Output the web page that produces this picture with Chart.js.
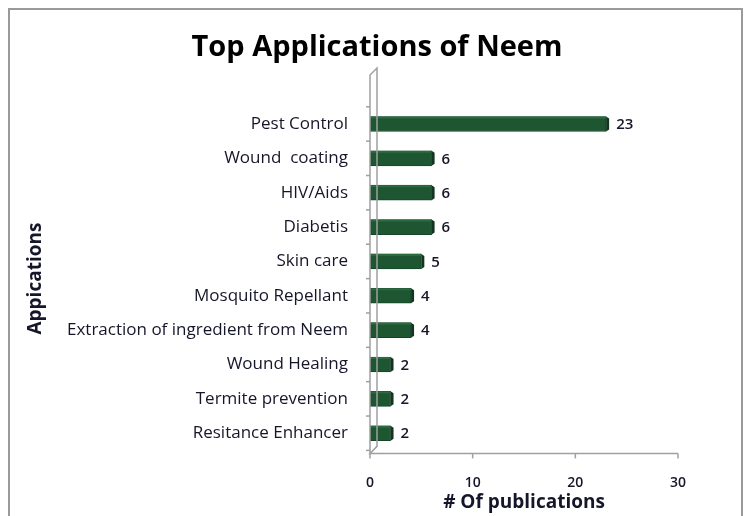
<!DOCTYPE html>
<html>
<head>
<meta charset="utf-8">
<script src="https://cdn.jsdelivr.net/npm/chart.js"></script>
<style>
  html, body { margin: 0; padding: 0; background: #fff; }
  #wrap { width: 745px; height: 516px; position: relative; }
</style>
</head>
<body>
<div id="wrap"><canvas id="neemChart" width="745" height="516"></canvas></div>
<script>
const applications = ['Pest Control', 'Wound  coating', 'HIV/Aids', 'Diabetis', 'Skin care',
    'Mosquito Repellant', 'Extraction of ingredient from Neem', 'Wound Healing',
    'Termite prevention', 'Resitance Enhancer'];
const publications = [23, 6, 6, 6, 5, 4, 4, 2, 2, 2];
const xTicks = [0, 10, 20, 30];

const textColor = '#16162a';
const font = "'Open Sans', sans-serif";

// outer frame + the little 3D wall edge above the axis
const framePlugin = {
    id: 'frame',
    beforeDraw(chart) {
        const c = chart.ctx;
        c.save();
        c.strokeStyle = '#9a9a9a';
        c.lineWidth = 2;
        c.beginPath();
        c.moveTo(9, 520); c.lineTo(9, 9); c.lineTo(742, 9); c.lineTo(742, 520);
        c.stroke();
        c.restore();
    },
    afterDraw(chart) {
        const c = chart.ctx;
        const a = chart.chartArea;
        c.save();
        c.strokeStyle = '#a0a0a0';
        c.lineWidth = 1.5;
        c.beginPath();
        c.moveTo(a.left, a.bottom + 3);
        c.lineTo(a.left, 75);
        c.lineTo(a.left + 7, 68);
        c.lineTo(a.left + 7, a.bottom - 4);
        c.lineTo(a.left, a.bottom + 3);
        c.lineTo(a.right, a.bottom + 3);
        c.stroke();
        // x ticks
        const xs = chart.scales.x;
        xTicks.forEach(v => {
            const px = xs.getPixelForValue(v);
            c.beginPath(); c.moveTo(px, a.bottom + 3); c.lineTo(px, a.bottom + 8); c.stroke();
        });
        // y ticks at category boundaries
        const ys = chart.scales.y;
        for (let i = 0; i <= applications.length; i++) {
            const py = ys.getPixelForValue(i - 0.5);
            c.beginPath(); c.moveTo(a.left - 4, py); c.lineTo(a.left, py); c.stroke();
        }
        c.restore();
    }
};

// 3D-ish side face and value labels
const barPlugin = {
    id: 'barLabels',
    afterDatasetsDraw(chart) {
        const c = chart.ctx;
        const meta = chart.getDatasetMeta(0);
        c.save();
        meta.data.forEach((bar, i) => {
            const top = bar.y - bar.height / 2;
            const bot = bar.y + bar.height / 2;
            c.fillStyle = '#2c6a40';
            c.fillRect(bar.base, top, bar.x - bar.base, 2);
            c.fillStyle = '#123520';
            c.beginPath();
            c.moveTo(bar.x, top);
            c.lineTo(bar.x + 3, top + 2);
            c.lineTo(bar.x + 3, bot - 2);
            c.lineTo(bar.x, bot);
            c.closePath();
            c.fill();
            c.fillStyle = textColor;
            c.font = "600 15px " + font;
            c.textBaseline = 'middle';
            c.fillText(publications[i], bar.x + 10, bar.y + 1);
        });
        c.restore();
    }
};

const ctx = document.getElementById('neemChart');
const neemChart = new Chart(ctx, {
    type: 'bar',
    data: {
        labels: applications,
        datasets: [{
            data: publications,
            backgroundColor: '#1e5631',
            borderColor: '#154428',
            borderWidth: 1,
            barThickness: 15
        }]
    },
    plugins: [framePlugin, barPlugin],
    options: {
        responsive: false,
        animation: false,
        indexAxis: 'y',
        layout: { padding: { top: 30, left: 24, right: 15, bottom: 2 } },
        plugins: {
            legend: { display: false },
            tooltip: { enabled: false },
            title: {
                display: true,
                text: 'Top Applications of Neem',
                color: '#000',
                font: { family: font, size: 29, weight: 'bold' },
                padding: { top: 0, bottom: 42 }
            }
        },
        scales: {
            x: {
                min: 0, max: 30,
                grid: { display: false, drawTicks: false },
                border: { display: false },
                afterBuildTicks(scale) { scale.ticks = xTicks.map(v => ({ value: v })); },
                ticks: { color: textColor, padding: 24, font: { family: font, size: 14, weight: '600' } },
                title: {
                    display: true, text: '# Of publications', color: textColor,
                    padding: { top: -24, bottom: 0 },
                    font: { family: font, size: 19, weight: 'bold' }
                }
            },
            y: {
                grid: { display: false, drawTicks: false },
                border: { display: false },
                afterFit(scale) { scale.width = 346; },
                ticks: { color: textColor, padding: 22, font: { family: font, size: 17 } },
                title: {
                    display: true, text: 'Appications', color: textColor,
                    padding: { top: 0, bottom: 0 },
                    font: { family: font, size: 19, weight: 'bold' }
                }
            },
            // empty right-hand box so the plot ends where the reference does
            yRight: {
                type: 'category',
                position: 'right',
                grid: { display: false },
                border: { display: false },
                ticks: { display: false },
                afterFit(scale) { scale.width = 52; }
            }
        }
    }
});
</script>
</body>
</html>
